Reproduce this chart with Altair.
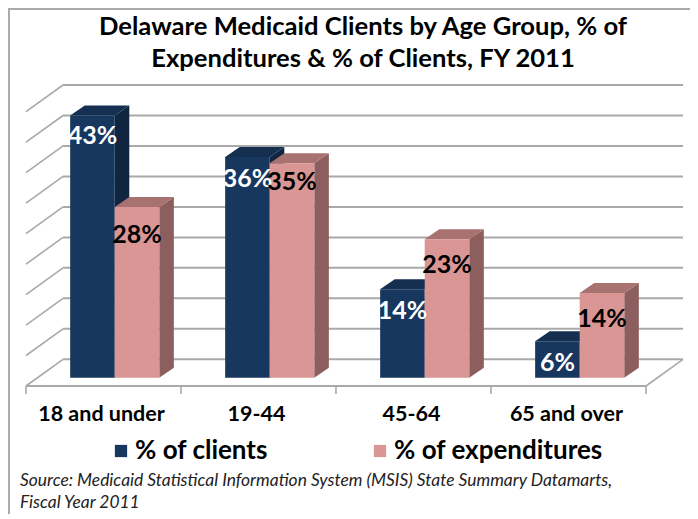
import altair as alt
import pandas as pd

categories = ["18 and under", "19-44", "45-64", "65 and over"]
series = ["% of clients", "% of expenditures"]
clients = [43, 36.2, 14.5, 6]
expenditures = [28, 35.2, 22.7, 13.9]
client_labels = ["43%", "36%", "14%", "6%"]
expenditure_labels = ["28%", "35%", "23%", "14%"]
grid_values = [0, 5, 10, 15, 20, 25, 30, 35, 40, 45]
group_ticks = [0, 1, 2, 3, 4]
title_lines = ["Delaware Medicaid Clients by Age Group, % of",
               "Expenditures & % of Clients, FY 2011"]
source_lines = ["Source:  Medicaid Statistical Information System (MSIS) State Summary Datamarts,",
                "Fiscal Year 2011"]

NAVY, NAVY_TOP, NAVY_SIDE = "#17375E", "#142F50", "#10253F"
PINK, PINK_TOP, PINK_SIDE = "#D99694", "#A87270", "#8C5F5E"
GRID = "#A9A9A9"

# 3-D projection, in data units
WALL_DX, WALL_DY = 0.239, 4.38      # floor depth
BAR_DX, BAR_DY = 0.094, 1.64        # bar depth
BAR_BASE = -3.02                    # front of bars, measured on the back wall's scale
BAR_W = 0.2875
OFFSET = {series[0]: 0.285, series[1]: 0.5725}
FLOOR = -WALL_DY
LABEL_DROP = {series[0]: [3.1, 3.3, 3.3, 3.3], series[1]: [4.3, 2.8, 3.9, 3.9]}

fronts, sides, tops, labels = [], [], [], []
for s, vals, labs in ((series[0], clients, client_labels), (series[1], expenditures, expenditure_labels)):
    for i, v in enumerate(vals):
        x0 = i + OFFSET[s]
        x1 = x0 + BAR_W
        t = BAR_BASE + v
        k = f"{s}{i}"
        fronts.append(dict(series=s, x=x0, x2=x1, y=BAR_BASE, y2=t))
        sides += [dict(series=s, k=k, x=x1, lo=BAR_BASE, hi=t),
                  dict(series=s, k=k, x=x1 + BAR_DX, lo=BAR_BASE + BAR_DY, hi=t + BAR_DY)]
        tops += [dict(series=s, k=k, y=t, x=x0, x2=x1),
                 dict(series=s, k=k, y=t + BAR_DY, x=x0 + BAR_DX, x2=x1 + BAR_DX)]
        labels.append(dict(series=s, x=x0 + BAR_W / 2, y=t - LABEL_DROP[s][i], text=labs[i]))

fronts, sides, tops, labels = map(pd.DataFrame, (fronts, sides, tops, labels))

xs = alt.Scale(domain=[0, 4 + WALL_DX], nice=False, zero=False)
ys = alt.Scale(domain=[FLOOR, 45], nice=False, zero=False)
X = lambda f: alt.X(f, type="quantitative", scale=xs, axis=None)
Y = lambda f: alt.Y(f, type="quantitative", scale=ys, axis=None)

# walls and floor
back = pd.DataFrame({"v": grid_values, "x": 0 + WALL_DX, "x2": 4 + WALL_DX})
layer_back = alt.Chart(back).mark_rule(color=GRID, strokeWidth=2).encode(X("x"), x2="x2", y=Y("v"))
wall = pd.DataFrame({"v": grid_values})
wall["x"], wall["x2"] = 0, WALL_DX
wall["f"] = wall.v + FLOOR
layer_wall = alt.Chart(wall).mark_rule(color=GRID, strokeWidth=1.6).encode(X("x"), x2="x2", y=Y("f"), y2="v")
floor = pd.DataFrame({"x": [0], "x2": [4], "y": [FLOOR]})
layer_floor = alt.Chart(floor).mark_rule(color=GRID, strokeWidth=2).encode(X("x"), x2="x2", y=Y("y"))
right = pd.DataFrame({"x": [4], "x2": [4 + WALL_DX], "y": [FLOOR], "y2": [0]})
layer_right = alt.Chart(right).mark_rule(color=GRID, strokeWidth=1.6).encode(X("x"), x2="x2", y=Y("y"), y2="y2")
ticks = pd.DataFrame({"x": group_ticks})
tick_rules = alt.Chart(ticks).mark_rule(color=GRID, strokeWidth=1.6).encode(
    x=X("x"), y=alt.value(301), y2=alt.value(309))


def side(s, color):
    return alt.Chart(sides[sides.series == s]).mark_area(color=color, opacity=1).encode(
        X("x"), y=Y("lo"), y2="hi", detail="k")


def top(s, color):
    return alt.Chart(tops[tops.series == s]).mark_area(color=color, orient="horizontal", opacity=1).encode(
        y=Y("y"), x=X("x"), x2="x2", detail="k")


front = alt.Chart(fronts).mark_rect().encode(
    X("x"), x2="x2", y=Y("y"), y2="y2",
    color=alt.Color("series:N", scale=alt.Scale(domain=series, range=[NAVY, PINK]),
                    legend=alt.Legend(title=None, orient="none", legendX=82, legendY=353,
                                      direction="horizontal", symbolType="square", symbolSize=150,
                                      symbolStrokeWidth=0, labelFont="Lato", labelFontWeight="bold",
                                      labelFontSize=26, labelColor="#000000", labelLimit=300,
                                      labelOffset=1, columnPadding=99, padding=0)),
)

value_labels = alt.Chart(labels).mark_text(font="Lato", fontWeight="bold", fontSize=25, baseline="middle", dy=2).encode(
    X("x"), y=Y("y"), text="text:N",
    color=alt.Color("series:N", scale=alt.Scale(domain=series, range=["#FFFFFF", "#000000"]), legend=None),
)
cat_df = pd.DataFrame({"c": categories, "x": [i + 0.5 for i in range(4)]})
cat_labels = alt.Chart(cat_df).mark_text(font="Lato", fontWeight="bold", fontSize=21.5, baseline="middle", dx=-2,
                                         color="#000000").encode(X("x"), y=alt.value(330), text="c:N")
src_df = pd.DataFrame({"t": source_lines, "row": [396, 418]})
src_labels = alt.Chart(src_df).mark_text(font="Lato", fontStyle="italic", fontSize=17.4, baseline="middle",
                                         align="left", color="#222222").encode(
    x=alt.value(-6), y=alt.Y("row:Q", scale=None, axis=None), text="t:N")
title_df = pd.DataFrame({"t": title_lines, "row": [-58, -26]})
title_text = alt.Chart(title_df).mark_text(font="Lato", fontWeight="bold", fontSize=25.6, baseline="middle",
                                           align="center", color="#000000").encode(
    x=alt.value(337), y=alt.Y("row:Q", scale=None, axis=None), text="t:N")

frame_left = alt.Chart(pd.DataFrame({"a": [0]})).mark_rule(color="#ABABAB", strokeWidth=2).encode(
    x=alt.value(-17), y=alt.value(-77), y2=alt.value(429))
frame_top = alt.Chart(pd.DataFrame({"a": [0]})).mark_rule(color="#ABABAB", strokeWidth=2).encode(
    x=alt.value(-18), x2=alt.value(664), y=alt.value(-76))

chart = alt.layer(
    frame_left, frame_top, layer_back, layer_wall, layer_floor, layer_right, tick_rules,
    side(series[0], NAVY_SIDE), top(series[0], NAVY_TOP),
    side(series[1], PINK_SIDE), top(series[1], PINK_TOP),
    front, value_labels, cat_labels, src_labels, title_text,
).resolve_scale(color="independent", y="independent").properties(
    width=657, height=301,
    padding={"left": 18, "top": 77, "right": 7, "bottom": 128},
    autosize=alt.AutoSizeParams(type="none"),
    background="#FFFFFF",
).configure_view(stroke=None)

chart.save("out.html", embed_options={"renderer": "svg", "actions": False})
